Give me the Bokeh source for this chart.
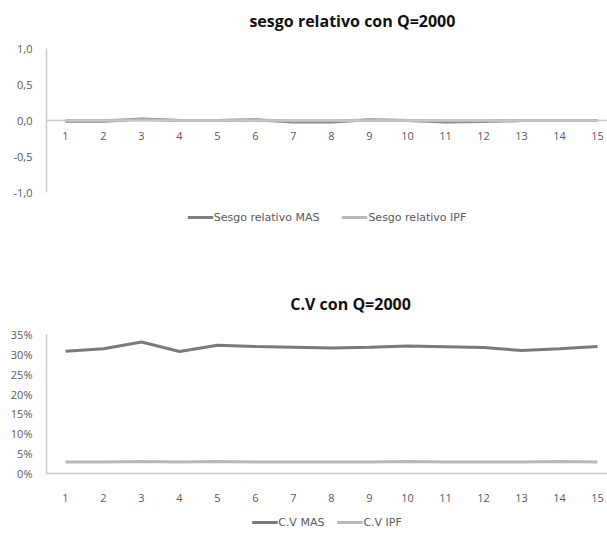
from bokeh.plotting import figure
from bokeh.layouts import column
from bokeh.models import (Range1d, FixedTicker, NumeralTickFormatter, Span, Label,
                          Legend, LegendItem, ColumnDataSource)
from bokeh.core.properties import value
from bokeh.embed import file_html
from bokeh.resources import INLINE

# Replications 1..15
categories = list(range(1, 16))
tick_labels = [str(c) for c in categories]

# Relative bias, Q=2000
sesgo_mas = [-0.01, -0.01, 0.02, 0.0, 0.0, 0.01, -0.02, -0.02, 0.01, 0.0, -0.02, -0.015, 0.0, 0.0, 0.0]
sesgo_ipf = [0.0, 0.0, 0.01, 0.0, 0.0, 0.005, -0.005, -0.005, 0.005, 0.0, -0.005, -0.005, 0.0, 0.0, 0.0]
sesgo_ticks = [-1.0, -0.5, 0.0, 0.5, 1.0]
sesgo_tick_labels = ["-1,0", "-0,5", "0,0", "0,5", "1,0"]

# Coefficient of variation, Q=2000
cv_mas = [0.308, 0.314, 0.331, 0.307, 0.323, 0.320, 0.318, 0.316, 0.318, 0.321, 0.319, 0.317, 0.310, 0.314, 0.320]
cv_ipf = [0.029, 0.029, 0.030, 0.029, 0.030, 0.029, 0.029, 0.029, 0.029, 0.030, 0.029, 0.029, 0.029, 0.030, 0.029]
cv_ticks = [0.0, 0.05, 0.10, 0.15, 0.20, 0.25, 0.30, 0.35]

DARK = "#808080"
DARK2 = "#7a7a7a"
LIGHT = "#b8b8b8"
AXIS = "#c8c8c8"
TXT = "#595959"
FONT = "Open Sans"
LEG_FONT = "DejaVu Sans"
W = 607
LEFT = 46
BAND = 38.0
X_END = 0.5 + (W - LEFT) / BAND
NAN = float("nan")


def strip(height, left=0):
    """An empty, axis-less band used for a heading or a legend."""
    s = figure(width=W, height=height, output_backend="svg", toolbar_location=None,
               x_axis_type=None, y_axis_type=None,
               x_range=Range1d(0, W - left), y_range=Range1d(0, height),
               min_border_left=left, min_border_right=0, min_border_top=0, min_border_bottom=0)
    s.outline_line_color = None
    s.xgrid.visible = False
    s.ygrid.visible = False
    return s


def title_strip(text, height, center_from_top, x_center=328):
    s = strip(height)
    s.add_layout(Label(x=x_center, y=height - center_from_top, text=text,
                       text_align="center", text_baseline="middle",
                       text_font=FONT, text_font_size="16px", text_font_style="bold",
                       text_color="#111111"))
    return s


def legend_strip(labels, colors, height, spacing):
    s = strip(height, left=20)
    items = []
    for lab, col in zip(labels, colors):
        r = s.line(x=[NAN, NAN], y=[NAN, NAN], line_color=col, line_width=3)
        items.append(LegendItem(label=lab, renderers=[r]))
    leg = Legend(items=items, orientation="horizontal", location="center")
    leg.border_line_color = None
    leg.background_fill_alpha = 0
    leg.label_text_font = LEG_FONT
    leg.label_text_font_size = "11px"
    leg.label_text_color = TXT
    leg.glyph_width = 26
    leg.label_standoff = 1
    leg.spacing = spacing
    leg.padding = 0
    leg.margin = 0
    s.add_layout(leg)
    return s


def base(height, y0, y1, top, bottom):
    p = figure(width=W, height=height, output_backend="svg", toolbar_location=None,
               x_range=Range1d(0.5, X_END), y_range=Range1d(y0, y1),
               min_border_left=LEFT, min_border_right=0,
               min_border_top=top, min_border_bottom=bottom)
    p.outline_line_color = None
    p.xgrid.visible = False
    p.ygrid.visible = False
    for ax in (p.xaxis[0], p.yaxis[0]):
        ax.axis_line_color = AXIS
        ax.axis_line_width = 1.5
        ax.major_tick_line_color = None
        ax.minor_tick_line_color = None
        ax.major_label_text_font = FONT
        ax.major_label_text_font_size = "11px"
        ax.major_label_text_color = TXT
    p.xaxis.ticker = FixedTicker(ticks=categories)
    p.yaxis.major_label_standoff = 8
    return p


# Relative bias chart: the category axis crosses at zero
t1 = title_strip("sesgo relativo con Q=2000", 36, 20, 331)
p1 = base(165, -1.0, 1.0, 12, 9)
p1.yaxis.ticker = FixedTicker(ticks=sesgo_ticks)
p1.yaxis.major_label_overrides = {t: s for t, s in zip(sesgo_ticks, sesgo_tick_labels)}
p1.xaxis.visible = False
p1.add_layout(Span(location=0, dimension="width", line_color=AXIS, line_width=1.5))
lab_src = ColumnDataSource(dict(x=categories, y=[0.0] * len(categories), t=tick_labels))
p1.text(x="x", y="y", text="t", source=lab_src, text_align="center", text_baseline="top",
        y_offset=11, text_font=value(FONT), text_font_size="11px", text_color=TXT)
p1.line(categories, sesgo_mas, line_color=DARK, line_width=3)
p1.line(categories, sesgo_ipf, line_color=LIGHT, line_width=3)
leg1 = legend_strip(["Sesgo relativo MAS", "Sesgo relativo IPF"], [DARK, LIGHT], 32, 22)

# Coefficient of variation chart
t2 = title_strip("C.V con Q=2000", 85, 70, 329)
p2 = base(189, 0.0, 0.35, 16, 34)
p2.yaxis.ticker = FixedTicker(ticks=cv_ticks)
p2.yaxis.formatter = NumeralTickFormatter(format="0%")
p2.xaxis.major_label_standoff = 14
p2.line(categories, cv_mas, line_color=DARK2, line_width=3)
p2.line(categories, cv_ipf, line_color=LIGHT, line_width=3)
leg2 = legend_strip(["C.V MAS", "C.V IPF"], [DARK2, LIGHT], 30, 12)

layout = column(t1, p1, leg1, t2, p2, leg2, spacing=0)
open("out.html", "w").write(file_html(layout, INLINE))
